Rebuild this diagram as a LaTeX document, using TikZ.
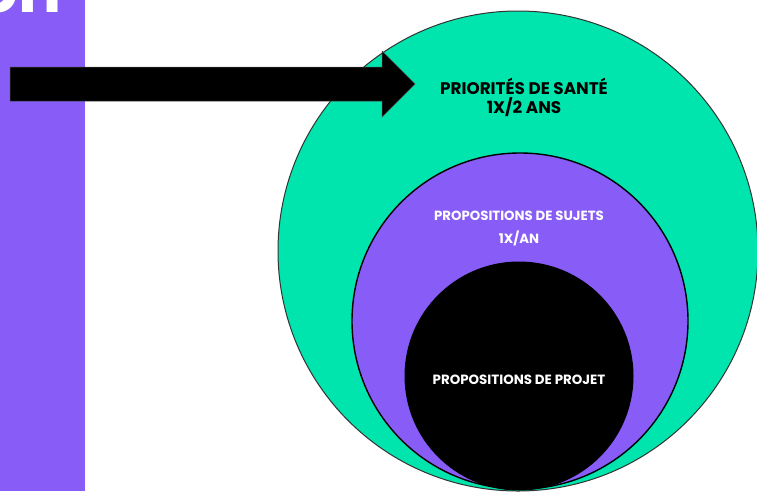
\documentclass[tikz,border=0pt]{standalone}
\usepackage{fontspec}
\setmainfont{Poppins}
\usepackage{tikz}
\usetikzlibrary{positioning}
\definecolor{mint}{HTML}{00E4AD}
\definecolor{violet}{HTML}{875CF7}

\begin{document}
\begin{tikzpicture}[x=1pt,y=-1pt,
  ring/.style={draw=black,line width=1pt},
  label/.style={align=center,font=\bfseries\fontsize{#1}{#1}\selectfont},
  label/.default=13]
\useasboundingbox (0,0) rectangle (757,491);
%%%%%%%%%%%%%%%%
\fill[violet] (0,0) rectangle (85,491);
\node[anchor=base east,text=white,font=\bfseries\fontsize{64}{64}\selectfont,inner sep=0pt] (titre) at (62,12) {on};
%%%%%%%%%%%%%%%%
\draw[ring,fill=mint,draw=black!80] (518,251) circle (240);
\draw[ring,fill=violet,line width=1.4pt] (520,321) circle (168);
\draw[ring,fill=black] (519,376) circle (114);
%%%%%%%%%%%%%%%%
\node[label=16.8,text=black] (sante) at (524,86) {PRIORITÉS DE SANTÉ};
\node[label=16.8,text=black] (sante2) at (524,107) {1X/2 ANS};
%%%%%%%%%%%%%%%%
\node[label=13.3,text=white] (sujets) at (519,216) {PROPOSITIONS DE SUJETS};
\node[label=13.3,text=white] (sujets2) at (519,238) {1X/AN};
%%%%%%%%%%%%%%%%
\node[label=13.4,text=white] (projet) at (519,380) {PROPOSITIONS DE PROJET};
%%%%%%%%%%%%%%%%
\draw[fill=black,draw=black!70,line width=0.5pt] (10,67) -- (382,67) -- (382,51) -- (415,84) -- (382,117) -- (382,101) -- (10,101) -- cycle;
\end{tikzpicture}
\end{document}
